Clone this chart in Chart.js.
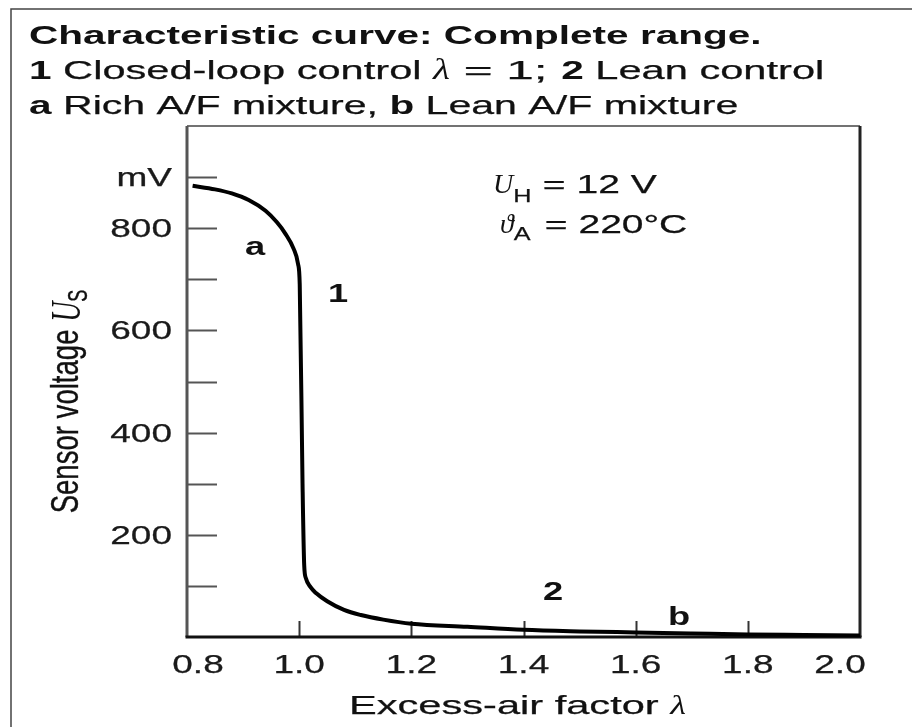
<!DOCTYPE html>
<html>
<head>
<meta charset="utf-8">
<script src="https://cdn.jsdelivr.net/npm/chart.js@4.4.1/dist/chart.umd.min.js"></script>
<style>
  html, body { margin: 0; padding: 0; background: #fff; }
  canvas { display: block; }
</style>
</head>
<body>
<canvas id="myChart" width="912" height="727"></canvas>
<script>
// excess-air factor and sensor voltage (mV)
const lambda = [0.81, 0.85, 0.88, 0.91, 0.94, 0.96, 0.975, 0.99, 0.998, 1.001, 1.006, 1.009, 1.012, 1.02, 1.03, 1.05, 1.08, 1.11, 1.15, 1.2, 1.3, 1.4, 1.5, 1.6, 1.7, 1.8, 1.9, 2.0];
const sensorMv = [883, 876, 868, 855, 834, 812, 790, 760, 730, 690, 300, 140, 115, 98, 86, 70, 53, 43, 34, 26, 20, 14, 11, 9, 7, 5, 4, 3];

const yLabelValues = [200, 400, 600, 800, 900];
const yLabelText = ['200', '400', '600', '800', 'mV'];

const SANS = '"Liberation Sans", Arial, sans-serif';
const SERIF = '"Liberation Serif", "DejaVu Serif", serif';
const INK = '#111';

// text in the source is stretched wide, so draw runs with a horizontal scale
const runsWidth = (ctx, runs) => runs.reduce((w, r) => {
	ctx.font = r.font;
	return w + ctx.measureText(r.text).width * (r.sx || 1);
}, 0);

const drawRuns = (ctx, runs, x, y, align) => {
	let cx = x;
	const w = runsWidth(ctx, runs);
	if (align === 'center') cx = x - w / 2;
	if (align === 'right') cx = x - w;
	runs.forEach(r => {
		ctx.font = r.font;
		ctx.save();
		ctx.translate(cx, y + (r.dy || 0));
		ctx.scale(r.sx || 1, 1);
		ctx.fillText(r.text, 0, 0);
		if (r.w) {
			ctx.strokeStyle = ctx.fillStyle;
			ctx.lineWidth = r.w;
			ctx.strokeText(r.text, 0, 0);
		}
		ctx.restore();
		cx += ctx.measureText(r.text).width * (r.sx || 1);
	});
};

const reg = (t, size, sx, dy) => ({ text: t, font: size + 'px ' + SANS, sx: sx || 1.58, dy: dy || 0, w: 0.25 });
const bold = (t, size, sx) => ({ text: t, font: 'bold ' + size + 'px ' + SANS, sx: sx || 1.56 });
const ital = (t, size, sx, dy) => ({ text: t, font: 'italic ' + size + 'px ' + SERIF, sx: sx || 1.2, dy: dy || 0 });

const decorations = {
	id: 'decorations',
	beforeDraw(chart) {
		const ctx = chart.ctx;
		ctx.save();
		ctx.fillStyle = '#fff';
		ctx.fillRect(0, 0, chart.width, chart.height);
		// outer frame
		ctx.strokeStyle = '#444';
		ctx.lineWidth = 1.5;
		ctx.beginPath();
		ctx.moveTo(11, chart.height);
		ctx.lineTo(11, 9);
		ctx.lineTo(chart.width, 9);
		ctx.stroke();
		ctx.restore();
	},
	beforeDatasetsDraw(chart) {
		const ctx = chart.ctx;
		const a = chart.chartArea;
		const xs = chart.scales.x;
		const ys = chart.scales.y;
		ctx.save();
		ctx.lineCap = 'butt';

		// inward tick marks
		ctx.strokeStyle = '#555';
		ctx.lineWidth = 2;
		ys.ticks.forEach(t => {
			if (t.value <= ys.min || t.value >= ys.max) return;
			const py = Math.round(ys.getPixelForValue(t.value)) + 0.5;
			ctx.beginPath();
			ctx.moveTo(a.left, py);
			ctx.lineTo(a.left + 30, py);
			ctx.stroke();
		});
		ctx.strokeStyle = '#333';
		xs.ticks.forEach(t => {
			if (t.value <= xs.min + 1e-6 || t.value >= xs.max - 1e-6) return;
			const px = Math.round(xs.getPixelForValue(t.value)) + 0.5;
			ctx.beginPath();
			ctx.moveTo(px, a.bottom);
			ctx.lineTo(px, a.bottom - 16);
			ctx.stroke();
		});

		// plot box
		ctx.strokeStyle = '#444';
		ctx.lineWidth = 1.5;
		ctx.beginPath();
		ctx.moveTo(a.left, a.top);
		ctx.lineTo(a.right, a.top);
		ctx.stroke();
		ctx.strokeStyle = '#222';
		ctx.lineWidth = 3;
		ctx.beginPath();
		ctx.moveTo(a.right, a.top);
		ctx.lineTo(a.right, a.bottom);
		ctx.stroke();
		ctx.strokeStyle = '#555';
		ctx.beginPath();
		ctx.moveTo(a.left, a.top);
		ctx.lineTo(a.left, a.bottom);
		ctx.stroke();
		ctx.strokeStyle = '#111';
		ctx.beginPath();
		ctx.moveTo(a.left - 1.5, a.bottom);
		ctx.lineTo(a.right + 1.5, a.bottom);
		ctx.stroke();
		ctx.restore();
	},
	afterDraw(chart) {
		const ctx = chart.ctx;
		const a = chart.chartArea;
		const xs = chart.scales.x;
		const ys = chart.scales.y;
		ctx.save();
		ctx.fillStyle = INK;
		ctx.textBaseline = 'alphabetic';

		// title block
		drawRuns(ctx, [bold('Characteristic curve: Complete range.', 26)], 29, 44);
		drawRuns(ctx, [bold('1', 26), reg(' Closed-loop control ', 26, 1.6), ital('\u03bb', 30, 1.3), reg(' = 1; ', 26, 1.9), bold('2', 26), reg(' Lean control', 26, 1.6)], 29, 79);
		drawRuns(ctx, [bold('a', 26), reg(' Rich A/F mixture, ', 26), bold('b', 26), reg(' Lean A/F mixture', 26)], 29, 114);

		// tick labels
		ctx.fillStyle = '#1a1a1a';
		ys.ticks.forEach(t => {
			const i = yLabelValues.indexOf(t.value);
			if (i < 0) return;
			const py = ys.getPixelForValue(t.value);
			drawRuns(ctx, [reg(yLabelText[i], 25, 1.48)], a.left - 15, py + 9, 'right');
		});
		xs.ticks.forEach((t, i) => {
			let px = xs.getPixelForValue(t.value);
			if (i === 0) px += 11;
			if (i === xs.ticks.length - 1) px -= 20;
			drawRuns(ctx, [reg(t.value.toFixed(1), 25, 1.48)], px, a.bottom + 36, 'center');
		});

		// axis titles
		ctx.fillStyle = INK;
		drawRuns(ctx, [reg('Excess-air factor ', 26, 1.6), ital('\u03bb', 28, 1.3)], (a.left + a.right) / 2 - 6, 714, 'center');

		ctx.save();
		ctx.translate(78, (a.top + a.bottom) / 2 + 20);
		ctx.rotate(-Math.PI / 2);
		ctx.scale(1, 1.5);
		drawRuns(ctx, [reg('Sensor voltage ', 26, 1.06), ital('U', 28, 1.0, 1), reg('S', 18, 1.0, 6)], 0, 0, 'center');
		ctx.restore();

		// curve annotations
		drawRuns(ctx, [ital('U', 28, 1.0), reg('H', 18, 1.4, 9)], 493, 193);
		drawRuns(ctx, [reg(' = 12 V', 26, 1.5)], 532, 193);
		drawRuns(ctx, [ital('\u03d1', 28, 1.0), reg('A', 18, 1.4, 7)], 500, 233);
		drawRuns(ctx, [reg(' = 220\u00b0C', 26, 1.5)], 534, 233);

		drawRuns(ctx, [bold('a', 25, 1.45)], 255, 255, 'center');
		drawRuns(ctx, [bold('1', 25, 1.45)], 338, 302, 'center');
		drawRuns(ctx, [bold('2', 25, 1.45)], 553, 600, 'center');
		drawRuns(ctx, [bold('b', 25, 1.45)], 679, 625, 'center');
		ctx.restore();
	}
};

const ctx = document.getElementById('myChart').getContext('2d');
let myChart = new Chart(ctx, {
	type: 'line',
	data: {
		datasets: [
			{
				label: 'Sensor voltage',
				data: lambda.map((x, i) => ({ x: x, y: sensorMv[i] })),
				borderColor: '#000',
				borderWidth: 4,
				pointRadius: 0,
				cubicInterpolationMode: 'monotone',
				fill: false
			}
		]
	},
	options: {
		responsive: false,
		animation: false,
		devicePixelRatio: 1,
		layout: { padding: { top: 126, right: 52, left: 0, bottom: 0 } },
		plugins: { legend: { display: false }, tooltip: { enabled: false } },
		scales: {
			x: {
				type: 'linear',
				min: 0.8,
				max: 2.0,
				ticks: { display: false, stepSize: 0.2 },
				grid: { display: false },
				border: { display: false },
				afterFit: scale => { scale.height = 90; }
			},
			y: {
				min: 0,
				max: 1000,
				ticks: { display: false, stepSize: 100 },
				grid: { display: false },
				border: { display: false },
				afterFit: scale => { scale.width = 187; }
			}
		}
	},
	plugins: [decorations]
});
</script>
</body>
</html>
